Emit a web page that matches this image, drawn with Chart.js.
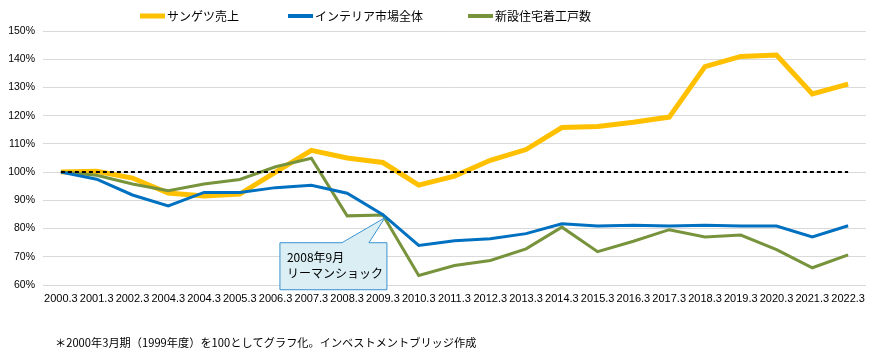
<!DOCTYPE html>
<html>
<head>
<meta charset="utf-8">
<script src="https://cdn.jsdelivr.net/npm/chart.js@4.4.0/dist/chart.umd.min.js"></script>
<style>
html,body{margin:0;padding:0;background:#fff;}
#wrap{position:relative;width:882px;height:357px;}
</style>
</head>
<body>
<div id="wrap"><canvas id="c" width="882" height="357"></canvas></div>
<script>
const categories = ["2000.3","2001.3","2002.3","2004.3","2004.3","2005.3","2006.3","2007.3","2008.3","2009.3","2010.3","2011.3","2012.3","2013.3","2014.3","2015.3","2016.3","2017.3","2018.3","2019.3","2020.3","2021.3","2022.3"];
const sangetsuSales = [100,100.3,97.9,92.6,91.5,92.2,100,107.7,105,103.4,95.4,98.6,104.2,108,115.8,116.2,117.7,119.5,137.4,141,141.5,127.7,131.2];
const interiorMarket = [100,97.5,91.9,88,92.8,92.8,94.5,95.3,92.5,84.9,74,75.7,76.4,78.2,81.7,80.9,81.2,80.9,81.2,80.9,80.9,77,81];
const housingStarts = [100,98.9,95.8,93.4,95.8,97.4,101.9,104.9,84.5,84.8,63.4,66.9,68.7,72.8,80.5,71.8,75.5,79.6,77,77.7,72.5,66.1,70.7];
const baseline = [100,100,100,100,100,100,100,100,100,100,100,100,100,100,100,100,100,100,100,100,100,100,100];
const seriesNames = ["サンゲツ売上","インテリア市場全体","新設住宅着工戸数"];
const yTicks = [60,70,80,90,100,110,120,130,140,150];
const calloutIndex = 9;
const calloutLines = ["2008年9月","リーマンショック"];
const footnote = "＊2000年3月期（1999年度）を100としてグラフ化。インベストメントブリッジ作成";

const FONT = "'Liberation Sans','Noto Sans CJK JP',sans-serif";
const JFONT = "'Noto Sans CJK JP','Liberation Sans',sans-serif";

const extras = {
  id: 'extras',
  afterDraw(chart) {
    const ctx = chart.ctx;
    const xs = chart.scales.x, ys = chart.scales.y;
    ctx.save();
    // legend
    const legendX = [140, 288, 468];
    const lw = [5, 4, 4];
    ctx.font = "12px " + JFONT;
    ctx.textBaseline = 'middle';
    ctx.textAlign = 'left';
    chart.data.datasets.slice(0, 3).forEach((d, i) => {
      ctx.strokeStyle = d.borderColor;
      ctx.lineWidth = lw[i];
      ctx.lineCap = 'butt';
      ctx.beginPath();
      ctx.moveTo(legendX[i], 16);
      ctx.lineTo(legendX[i] + 25, 16);
      ctx.stroke();
      ctx.fillStyle = '#000';
      ctx.fillText(d.label, legendX[i] + 27, 16);
    });
    // callout
    const px = xs.getPixelForValue(calloutIndex);
    const py = ys.getPixelForValue(interiorMarket[calloutIndex]);
    const tipX = px + 2, tipY = py + 3;
    const L = px - 103, R = px + 4, T = py + 28, B = py + 75;
    ctx.beginPath();
    ctx.moveTo(L, T);
    ctx.lineTo(px - 41, T);
    ctx.lineTo(tipX, tipY);
    ctx.lineTo(px - 14, T);
    ctx.lineTo(R, T);
    ctx.lineTo(R, B);
    ctx.lineTo(L, B);
    ctx.closePath();
    ctx.fillStyle = '#DAEEF3';
    ctx.fill();
    ctx.lineWidth = 1;
    ctx.strokeStyle = '#3A93D0';
    ctx.stroke();
    ctx.fillStyle = '#000';
    ctx.font = "12px " + JFONT;
    ctx.textBaseline = 'alphabetic';
    ctx.fillText(calloutLines[0], L + 7, T + 19);
    ctx.fillText(calloutLines[1], L + 7, T + 35);
    ctx.font = "11.2px " + JFONT;
    ctx.textBaseline = 'middle';
    ctx.fillText(footnote, 55, 343);
    ctx.restore();
  }
};

new Chart(document.getElementById('c'), {
  type: 'line',
  data: {
    labels: categories,
    datasets: [
      {label: seriesNames[0], data: sangetsuSales, borderColor: '#FFC000', backgroundColor: '#FFC000', borderWidth: 5, pointRadius: 0, tension: 0, order: 3},
      {label: seriesNames[1], data: interiorMarket, borderColor: '#0070C0', backgroundColor: '#0070C0', borderWidth: 3, pointRadius: 0, tension: 0, order: 1},
      {label: seriesNames[2], data: housingStarts, borderColor: '#77933C', backgroundColor: '#77933C', borderWidth: 3, pointRadius: 0, tension: 0, order: 2},
      {label: 'base', data: baseline, borderColor: '#000', borderWidth: 2, borderDash: [4,3], pointRadius: 0, tension: 0, order: -1}
    ]
  },
  options: {
    responsive: false,
    animation: false,
    events: [],
    layout: {padding: {left: 0, right: 16, top: 31, bottom: 0}},
    plugins: {
      tooltip: {enabled: false},
      legend: {display: false}
    },
    scales: {
      x: {
        offset: true,
        grid: {display: false, drawTicks: false},
        border: {display: false},
        ticks: {autoSkip: false, maxRotation: 0, minRotation: 0, padding: 7, color: '#000', font: {size: 11, family: FONT}},
        afterFit(s) { s.height = 72; }
      },
      y: {
        min: 60, max: 150,
        afterBuildTicks(s) { s.ticks = yTicks.map(v => ({value: v})); },
        grid: {color: '#D9D9D9', lineWidth: 1, drawTicks: false},
        border: {display: false},
        ticks: {padding: 8, color: '#000', font: {size: 10.5, family: FONT}, callback: v => v + '%'},
        afterFit(s) { s.width = 43; }
      }
    }
  },
  plugins: [extras]
});
</script>
</body>
</html>
